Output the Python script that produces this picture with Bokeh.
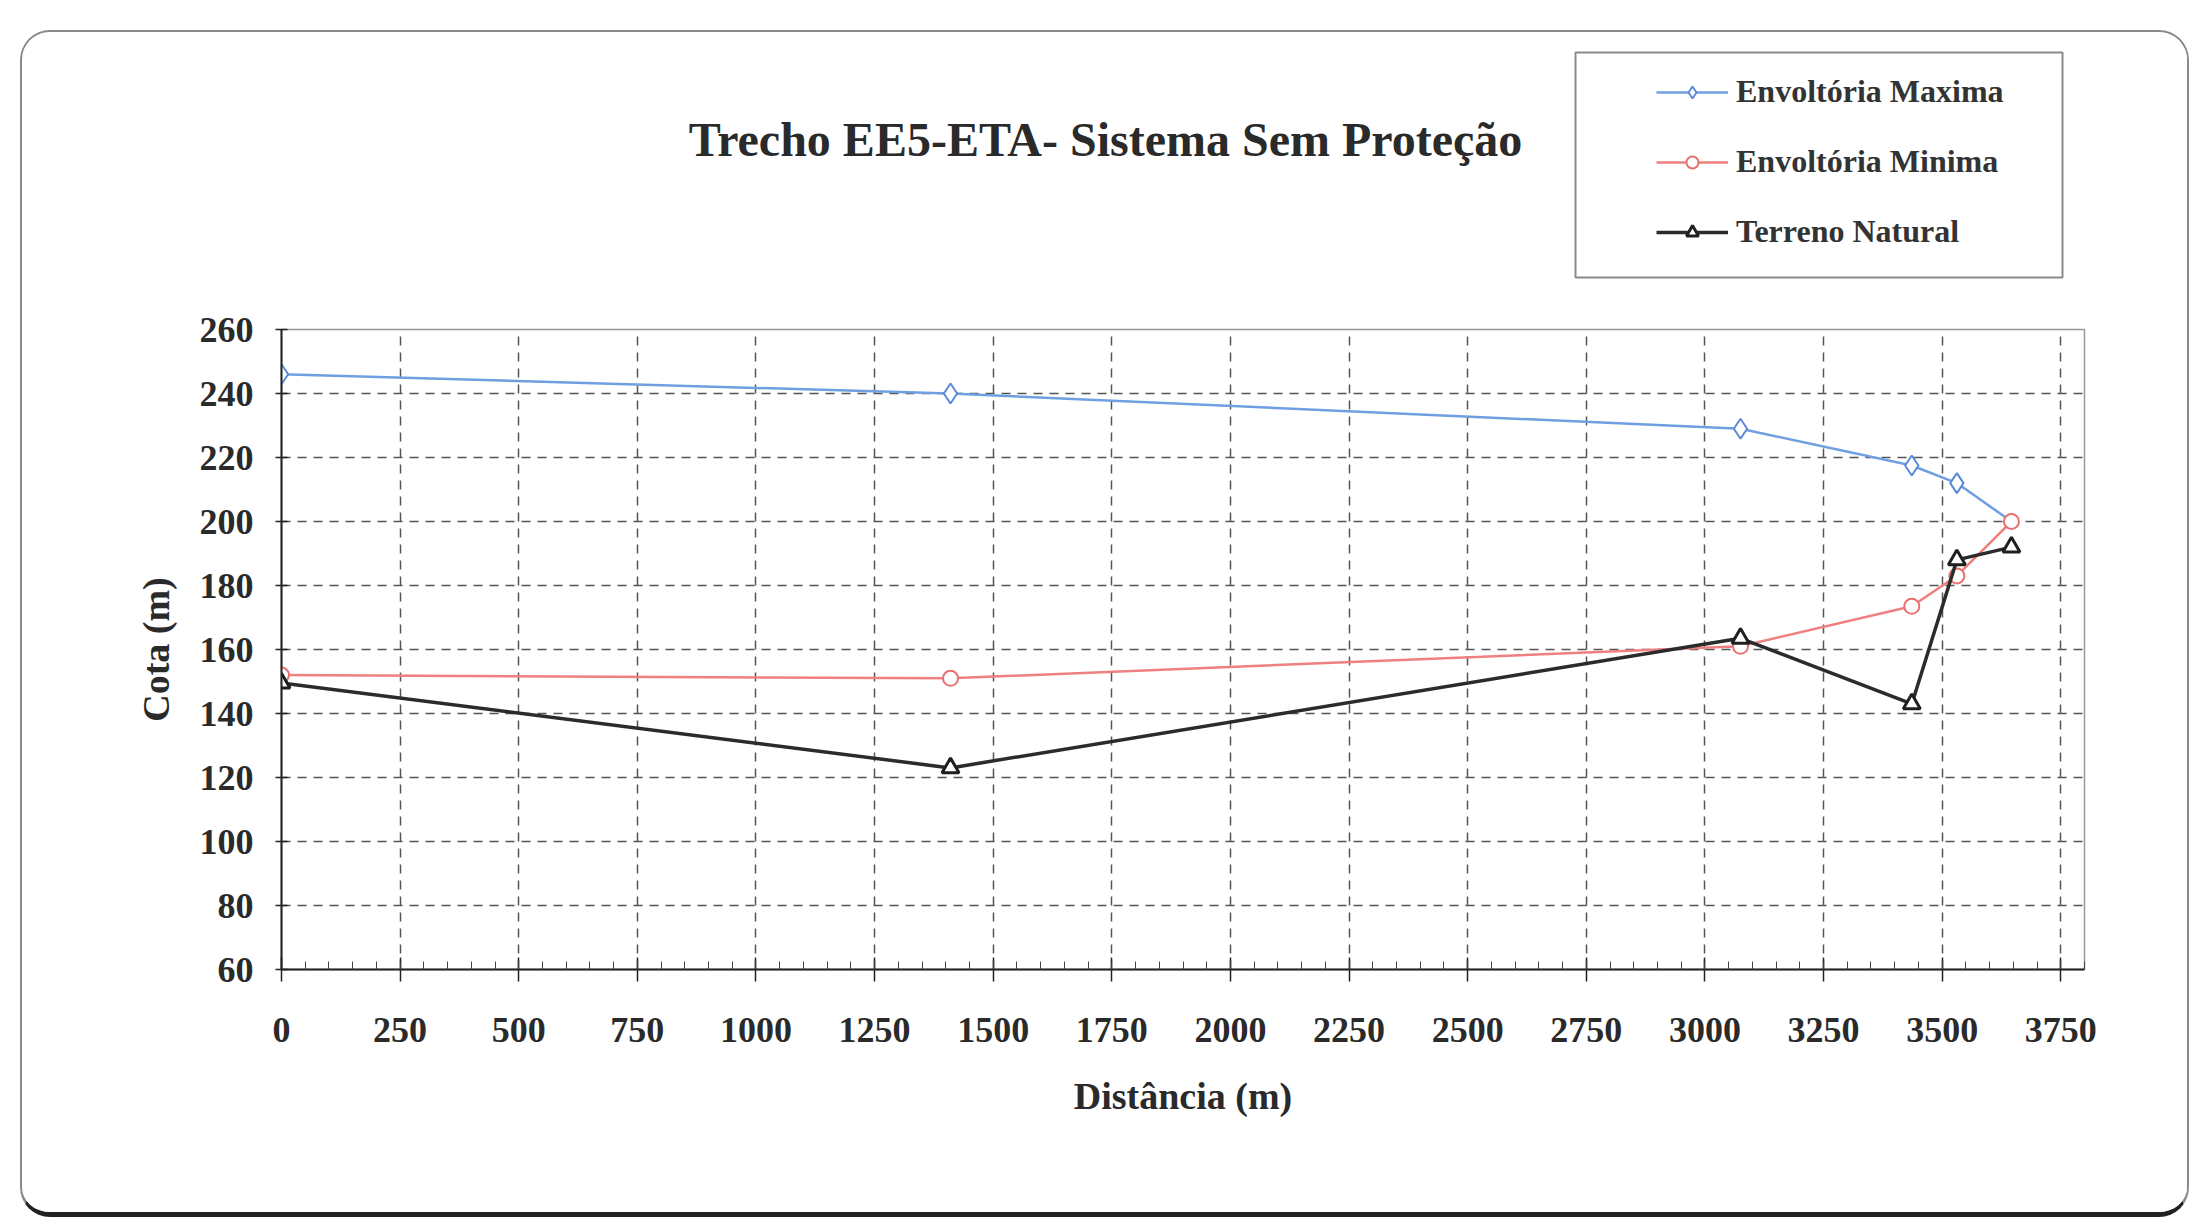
from bokeh.plotting import figure
from bokeh.layouts import column
from bokeh.models import FixedTicker, Legend, LegendItem, Label, Range1d
from bokeh.embed import file_html
from bokeh.resources import INLINE

# ---- data ----
distancia = [0, 1410, 3075, 3436, 3531, 3646]
env_max = [246, 240, 229, 217.5, 212, 200]
env_min = [152, 151, 161, 173.5, 183, 200]
terreno = [149.5, 123, 163.5, 143, 188, 192]

x_ticks = list(range(0, 3751, 250))
y_ticks = list(range(60, 261, 20))

title_text = "Trecho EE5-ETA- Sistema  Sem Proteção"
x_label = "Distância (m)"
y_label = "Cota (m)"
names = ["Envoltória Maxima", "Envoltória Minima", "Terreno Natural"]

FONT = "Liberation Serif"
W = 2165
H_TOP = 277
H_MAIN = 903
FRAME_W = W - 259 - 103

styles = {
    "max": dict(line_color="#6f9fe0", line_width=2.5, marker="diamond", size=20,
                mline="#5b8ad8", mlw=2),
    "min": dict(line_color="#ef8080", line_width=2.5, marker="circle", size=15,
                mline="#e77070", mlw=2),
    "ter": dict(line_color="#2b2b2b", line_width=3.5, marker="triangle", size=17,
                mline="#1f1f1f", mlw=3),
}

# ---------------- main plot ----------------
p = figure(width=W, height=H_MAIN, output_backend="svg", toolbar_location=None,
           x_range=Range1d(0, 3800), y_range=Range1d(60, 260),
           min_border_left=259, min_border_right=103, min_border_top=20,
           min_border_bottom=243)
p.background_fill_color = "white"
p.border_fill_color = "white"
p.outline_line_color = "#999999"
p.outline_line_width = 1.5

p.xaxis.ticker = FixedTicker(ticks=x_ticks, minor_ticks=list(range(0, 3801, 50)))
p.yaxis.ticker = FixedTicker(ticks=y_ticks, minor_ticks=[])

for ax in (p.xaxis[0], p.yaxis[0]):
    ax.axis_line_color = "#222222"
    ax.axis_line_width = 2
    ax.major_tick_line_color = "#222222"
    ax.major_tick_line_width = 1.5
    ax.minor_tick_line_color = "#444444"
    ax.major_label_text_font = FONT
    ax.major_label_text_font_style = "bold"
    ax.major_label_text_font_size = "36px"
    ax.major_label_text_color = "#2a2a2a"
    ax.axis_label_text_font = FONT
    ax.axis_label_text_font_style = "bold"
    ax.axis_label_text_font_size = "38px"
    ax.axis_label_text_color = "#2a2a2a"

p.xaxis.axis_label = x_label
p.yaxis.axis_label = y_label
p.xaxis.major_tick_in = 12
p.xaxis.major_tick_out = 12
p.xaxis.minor_tick_in = 8
p.xaxis.minor_tick_out = 0
p.xaxis.major_label_standoff = 36
p.xaxis.axis_label_standoff = 30
p.yaxis.major_tick_in = 6
p.yaxis.major_tick_out = 6
p.yaxis.major_label_standoff = 22
p.yaxis.axis_label_standoff = 20

for g in (p.xgrid[0], p.ygrid[0]):
    g.grid_line_color = "#555555"
    g.grid_line_width = 1.5
    g.grid_line_dash = "9 7"

for key, ys in (("max", env_max), ("min", env_min), ("ter", terreno)):
    s = styles[key]
    p.line(distancia, ys, line_color=s["line_color"], line_width=s["line_width"])
    xs_m = distancia[:-1] if key == "max" else distancia
    ys_m = ys[:-1] if key == "max" else ys
    p.scatter(xs_m, ys_m, marker=s["marker"], size=s["size"],
              line_color=s["mline"], line_width=s["mlw"], fill_color="white")

# ---------------- header (title + legend) ----------------
# its frame is aligned with the main frame horizontally (pixel-like data units)
top = figure(width=W, height=H_TOP, output_backend="svg", toolbar_location=None,
             x_range=Range1d(0, FRAME_W), y_range=Range1d(0, H_TOP),
             min_border_left=259, min_border_right=103,
             min_border_top=0, min_border_bottom=0)
top.axis.visible = False
top.grid.visible = False
top.outline_line_color = None
top.background_fill_color = "white"
top.border_fill_color = "white"

# legend frame box
top.quad(left=[1294], right=[1781], bottom=[32], top=[257],
         fill_color="white", line_color="#8a8a8a", line_width=2)

items = []
for key, name in zip(("max", "min", "ter"), names):
    s = styles[key]
    lr = top.line([-500, -400], [-500, -500], line_color=s["line_color"],
                  line_width=s["line_width"])
    sr = top.scatter([-500], [-500], marker=s["marker"], size=s["size"],
                     line_color=s["mline"], line_width=s["mlw"], fill_color="white")
    items.append(LegendItem(label=name, renderers=[lr, sr]))

legend = Legend(items=items, location=(1375, 59), orientation="vertical")
legend.label_text_font = FONT
legend.label_text_font_style = "bold"
legend.label_text_font_size = "32px"
legend.label_text_color = "#333333"
legend.glyph_width = 72
legend.glyph_height = 30
legend.label_height = 30
legend.spacing = 33
legend.padding = 10
legend.label_standoff = 8
legend.border_line_color = None
legend.background_fill_alpha = 0
legend.margin = 0
top.add_layout(legend)

title = Label(x=830, y=170, x_units="data", y_units="data", text=title_text,
              text_font=FONT, text_font_style="bold", text_font_size="48px",
              text_color="#2a2a2a", text_align="center", text_baseline="middle")
top.add_layout(title)

layout = column(top, p, spacing=0)
layout.styles = {"border": "2px solid #8a8a8a", "border-bottom": "5px solid #222222",
                 "border-radius": "30px", "margin-left": "20px", "margin-top": "30px",
                 "overflow": "hidden", "background": "white"}

open("out.html", "w").write(file_html(layout, INLINE))
